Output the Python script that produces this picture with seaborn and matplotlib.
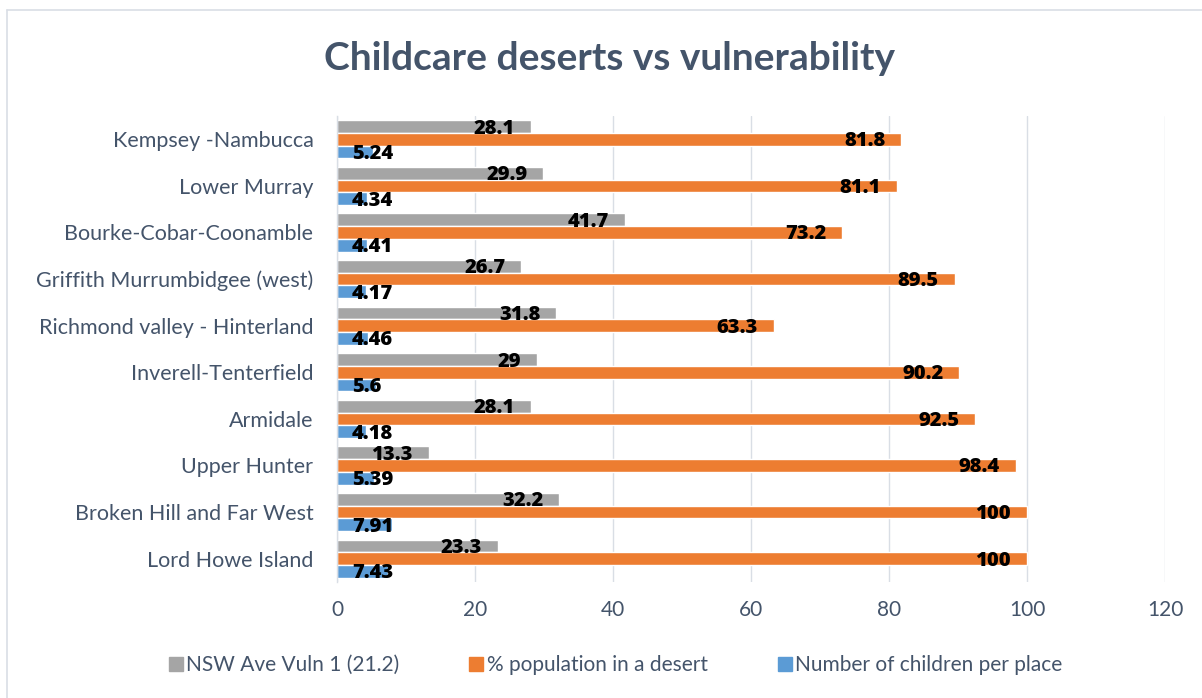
import matplotlib
matplotlib.use("Agg")
import matplotlib.pyplot as plt
import seaborn as sns
import pandas as pd
from matplotlib.lines import Line2D

regions = ["Kempsey -Nambucca", "Lower Murray", "Bourke-Cobar-Coonamble",
           "Griffith Murrumbidgee (west)", "Richmond valley - Hinterland",
           "Inverell-Tenterfield", "Armidale", "Upper Hunter",
           "Broken Hill and Far West", "Lord Howe Island"]
vuln = [28.1, 29.9, 41.7, 26.7, 31.8, 29, 28.1, 13.3, 32.2, 23.3]
desert = [81.8, 81.1, 73.2, 89.5, 63.3, 90.2, 92.5, 98.4, 100, 100]
children = [5.24, 4.34, 4.41, 4.17, 4.46, 5.6, 4.18, 5.39, 7.91, 7.43]
series = ["NSW Ave Vuln 1 (21.2)", "% population in a desert", "Number of children per place"]
xticks = [0, 20, 40, 60, 80, 100, 120]

colors = ["#A5A5A5", "#ED7D31", "#5B9BD5"]
txt = "#44546A"

rows = []
for s, vals in zip(series, [vuln, desert, children]):
    for r, v in zip(regions, vals):
        rows.append({"region": r, "series": s, "value": v})
df = pd.DataFrame(rows)

sns.set_theme(style="white")
plt.rcParams["font.family"] = ["Lato", "DejaVu Sans"]

fig = plt.figure(figsize=(12.02, 6.98), dpi=100)
ax = fig.add_axes([337/1202, 1-582/698, (1165-337)/1202, (582-116)/698])

sns.barplot(data=df, y="region", x="value", hue="series", order=regions,
            hue_order=series, palette=colors, orient="h", width=0.82,
            saturation=1, ax=ax, legend=False)

ax.set_xlim(0, 120)
ax.set_xticks(xticks)
ax.set_xticklabels([str(t) for t in xticks], fontsize=15, color=txt)
ax.tick_params(axis="x", length=0, pad=13)
ax.tick_params(axis="y", length=0, pad=17, labelsize=15.5, labelcolor=txt)
ax.set_xlabel("")
ax.set_ylabel("")
ax.xaxis.grid(True, color="#D9DEE5", linewidth=1)
ax.set_axisbelow(True)
for sp in ["top", "right", "bottom"]:
    ax.spines[sp].set_visible(False)
ax.spines["left"].set_color("#D9DEE5")
ax.spines["left"].set_linewidth(1)

# value labels
lab_font = dict(fontsize=14.5, fontweight=800, color="black",
                family=["Open Sans", "DejaVu Sans"])
for si, cont in enumerate(ax.containers):
    for bar in cont:
        w = bar.get_width()
        yc = bar.get_y() + bar.get_height() / 2
        lab = f"{w:g}"
        if si == 2:
            ax.annotate(lab, xy=(0, yc), xytext=(15, -2), textcoords="offset pixels",
                        ha="left", va="center", **lab_font)
        else:
            ax.annotate(lab, xy=(w, yc), xytext=(-16, -2), textcoords="offset pixels",
                        ha="right", va="center", **lab_font)

fig.text(609/1202, 1-58/698, "Childcare deserts vs vulnerability", ha="center", va="center",
         fontsize=28, fontweight="bold", color=txt)

handles = [Line2D([0], [0], marker="s", linestyle="", markersize=10,
                  markerfacecolor=c, markeredgecolor=c) for c in colors]
fig.legend(handles, series, loc="center", bbox_to_anchor=(615/1202, 1-665/698), ncol=3,
           frameon=False, fontsize=15, labelcolor=txt, handletextpad=0.1,
           columnspacing=3.3, handlelength=0.8)

# chart border
fig.add_artist(Line2D([7/1202, 7/1202], [0, 1-10/698], transform=fig.transFigure,
                      color="#D9DEE5", linewidth=1.2))
fig.add_artist(Line2D([7/1202, 1], [1-10/698, 1-10/698], transform=fig.transFigure,
                      color="#D9DEE5", linewidth=1.2))

fig.savefig("out.png", dpi=100)
